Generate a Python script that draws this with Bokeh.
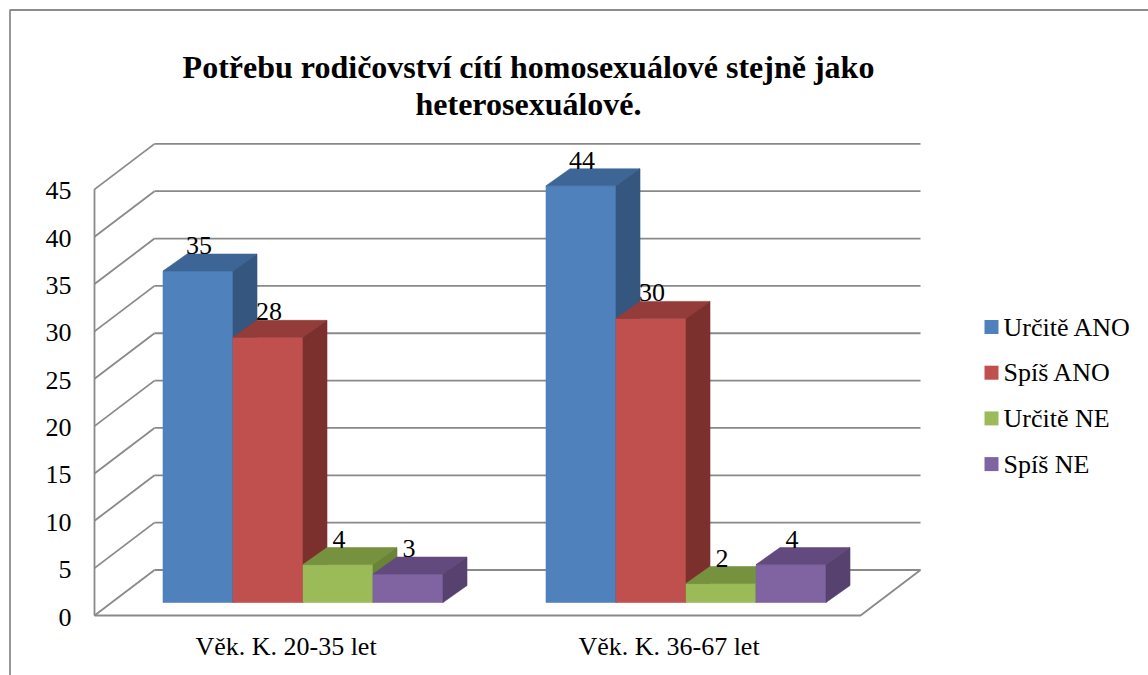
from bokeh.plotting import figure
from bokeh.models import Range1d, ColumnDataSource
from bokeh.embed import file_html
from bokeh.resources import INLINE
from bokeh.core.properties import value

# ---------------- data ----------------
categories = ["Věk. K. 20-35 let", "Věk. K. 36-67 let"]
series = ["Určitě ANO", "Spíš ANO", "Určitě NE", "Spíš NE"]
urcite_ano = [35, 44]
spis_ano = [28, 30]
urcite_ne = [4, 2]
spis_ne = [3, 4]
y_ticks = [0, 5, 10, 15, 20, 25, 30, 35, 40, 45]
title_lines = ["Potřebu rodičovství cítí homosexuálové stejně jako",
               "heterosexuálové."]

# ---------------- styles ----------------
front_colors = ["#4F81BD", "#C0504D", "#9BBB59", "#8064A2"]
top_colors = ["#3D6697", "#943C3A", "#76923F", "#624A7F"]
side_colors = ["#34567F", "#7C302E", "#6A8337", "#56416F"]
grid_color = "#898989"
FONT = "Liberation Serif"

W, H = 1148, 675
# page-pixel geometry of the 3D plot (layout only)
X0_PAGE, CAT_PX = 94.0, 383.0      # front-left floor corner, px per category
Y0_PAGE, VAL_PX = 615.0, 9.47      # front floor level, px per value unit
PXU = 1.0 / CAT_PX                  # data x units per pixel
PYU = 1.0 / VAL_PX                  # data y units per pixel


def px(xp):
    return (xp - X0_PAGE) * PXU


def py(yp):
    return (Y0_PAGE - yp) * PYU


WDX, WDY = 60 * PXU, 45.5 * PYU     # full wall depth offset
OFFX, OFFY = 17 * PXU, 13 * PYU     # bar front plane offset
BDX, BDY = 24 * PXU, 17 * PYU       # bar depth offset
BW = 70 * PXU                       # bar width

p = figure(width=W, height=H, output_backend="svg", toolbar_location=None,
           x_range=Range1d(px(0), px(W)), y_range=Range1d(py(H), py(0)),
           x_axis_type=None, y_axis_type=None, min_border=0)
p.outline_line_color = None
p.background_fill_color = "white"
p.border_fill_color = "white"

# chart border (left + top)
p.line([px(9.5), px(9.5), px(W)], [py(H), py(9.5), py(9.5)],
       line_color="#8C8C8C", line_width=1.8)

# ---------------- walls / grid ----------------
n_cat = len(categories)
xs, ys = [], []
for t in y_ticks:
    xs.append([WDX, n_cat + WDX]); ys.append([t + WDY, t + WDY])   # back wall
    xs.append([0, WDX]); ys.append([t, t + WDY])                   # side wall
xs.append([0, 0]); ys.append([0, y_ticks[-1]])                     # front edge
xs.append([0, n_cat, n_cat + WDX]); ys.append([0, 0, WDY])         # floor
p.multi_line(xs, ys, line_color=grid_color, line_width=1.8)

# ---------------- bars ----------------
values = [urcite_ano, spis_ano, urcite_ne, spis_ne]
pxs, pys, cols = [], [], []
lab_x, lab_y, lab_t = [], [], []
for i in range(n_cat):
    for j, vals in enumerate(values):
        v = vals[i]
        xl = i + 0.5 - 2 * BW + j * BW + OFFX
        xr = xl + BW
        yb, yt = OFFY, v + OFFY
        pxs.append([xl, xr, xr, xl]); pys.append([yb, yb, yt, yt]); cols.append(front_colors[j])
        pxs.append([xl, xr, xr + BDX, xl + BDX]); pys.append([yt, yt, yt + BDY, yt + BDY]); cols.append(top_colors[j])
        pxs.append([xr, xr + BDX, xr + BDX, xr]); pys.append([yb, yb + BDY, yt + BDY, yt]); cols.append(side_colors[j])
        lab_x.append((xl + xr) / 2 + 1 * PXU); lab_y.append(yt + BDY + 8.5 * PYU); lab_t.append(str(v))

bars = ColumnDataSource(dict(xs=pxs, ys=pys, c=cols))
p.patches("xs", "ys", source=bars, fill_color="c", line_color="c", line_width=0.6)

p.text(lab_x, lab_y, text=lab_t, text_font=value(FONT), text_font_size="26px",
       text_align="center", text_baseline="middle", text_color="black")

# ---------------- axis labels ----------------
p.text([px(71)] * len(y_ticks), [t - 1.5 * PYU for t in y_ticks], text=[str(t) for t in y_ticks],
       text_font=value(FONT), text_font_size="26px", text_align="right",
       text_baseline="middle", text_color="black")

p.text([i + 0.5 for i in range(n_cat)], [py(646)] * n_cat, text=categories,
       text_font=value(FONT), text_font_size="26px", text_align="center",
       text_baseline="middle", text_color="black")

# ---------------- title ----------------
p.text([px(528)] * 2, [py(66), py(103)], text=title_lines,
       text_font=value(FONT), text_font_size="32px", text_font_style="bold",
       text_align="center", text_baseline="middle", text_color="black")

# ---------------- legend ----------------
rows = [326.5 + k * 45.7 for k in range(len(series))]
p.rect([px(991)] * len(series), [py(r) for r in rows], width=14, height=14,
       width_units="screen", height_units="screen", fill_color=front_colors, line_color=None)
p.text([px(1003)] * len(series), [py(r) for r in rows], text=series,
       text_font=value(FONT), text_font_size="26px", text_align="left",
       text_baseline="middle", text_color="black")

open("out.html", "w").write(file_html(p, INLINE))
